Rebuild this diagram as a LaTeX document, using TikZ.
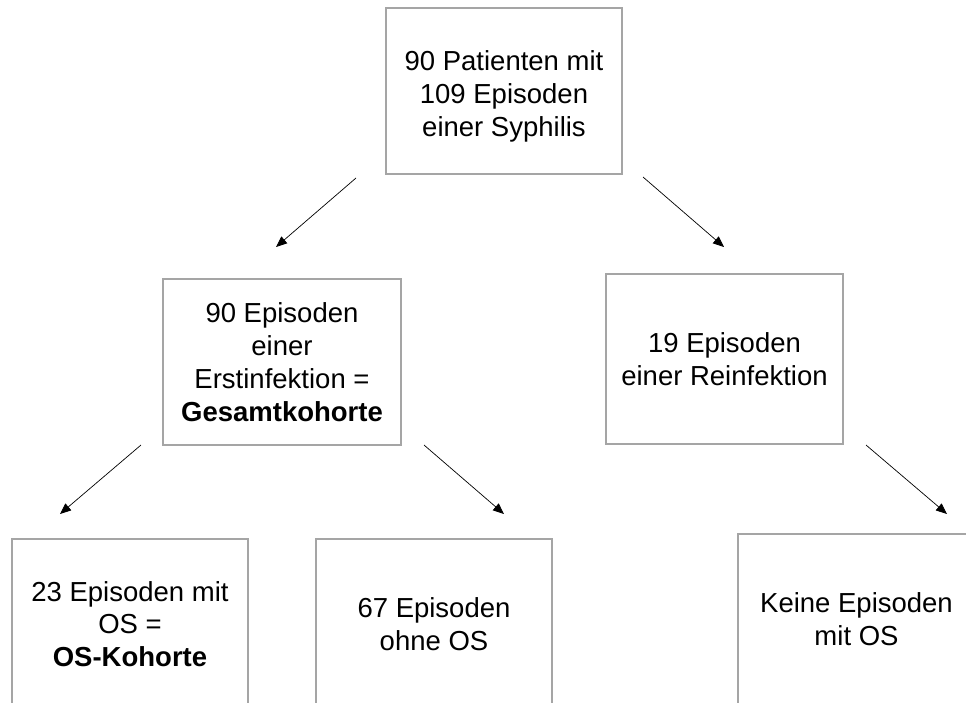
\documentclass[tikz,border=0pt]{standalone}
\usepackage{fontspec}
\setmainfont{Liberation Sans}
\usetikzlibrary{arrows.meta}
\definecolor{boxgray}{RGB}{165,165,165}
\begin{document}
\begin{tikzpicture}[x=1pt,y=-1pt,
  box/.style={draw=boxgray,line width=1.1pt,rectangle,align=center,inner sep=0pt,
    font=\fontsize{27.5}{32.8}\selectfont},
  arr/.style={line width=0.7pt,-{Triangle[length=11pt,width=9pt]}}]
\useasboundingbox (0,0) rectangle (966,702);
\clip (0,0) rectangle (966,702);
\fill[white] (0,0) rectangle (966,702);
\node[box,minimum width=236pt,minimum height=166pt] (top) at (504,91) {\rule{0pt}{31pt}90 Patienten mit\\109 Episoden\\einer Syphilis};
\node[box,minimum width=238pt,minimum height=166pt] (mid) at (282,362) {90 Episoden\\einer\\Erstinfektion =\\\textbf{Gesamtkohorte}};
\node[box,minimum width=237pt,minimum height=170pt] (re) at (724.5,359) {19 Episoden\\einer Reinfektion};
\node[box,minimum width=236pt,minimum height=170pt] (os) at (130,624) {23 Episoden mit\\OS =\\\textbf{OS-Kohorte}};
\node[box,minimum width=236pt,minimum height=170pt] (noos) at (434,624) {67 Episoden\\ohne OS};
\node[box,minimum width=237pt,minimum height=170pt] (keine) at (856.5,619) {Keine Episoden\\mit OS};
\coordinate (a1s) at (356,178); \coordinate (a1e) at (276,247);
\coordinate (a2s) at (643,177); \coordinate (a2e) at (724,247);
\coordinate (a3s) at (141,445); \coordinate (a3e) at (60,514);
\coordinate (a4s) at (424,445); \coordinate (a4e) at (504,514);
\coordinate (a5s) at (866,445); \coordinate (a5e) at (947,514);
\draw[arr] (a1s) -- (a1e);
\draw[arr] (a2s) -- (a2e);
\draw[arr] (a3s) -- (a3e);
\draw[arr] (a4s) -- (a4e);
\draw[arr] (a5s) -- (a5e);
\end{tikzpicture}
\end{document}
